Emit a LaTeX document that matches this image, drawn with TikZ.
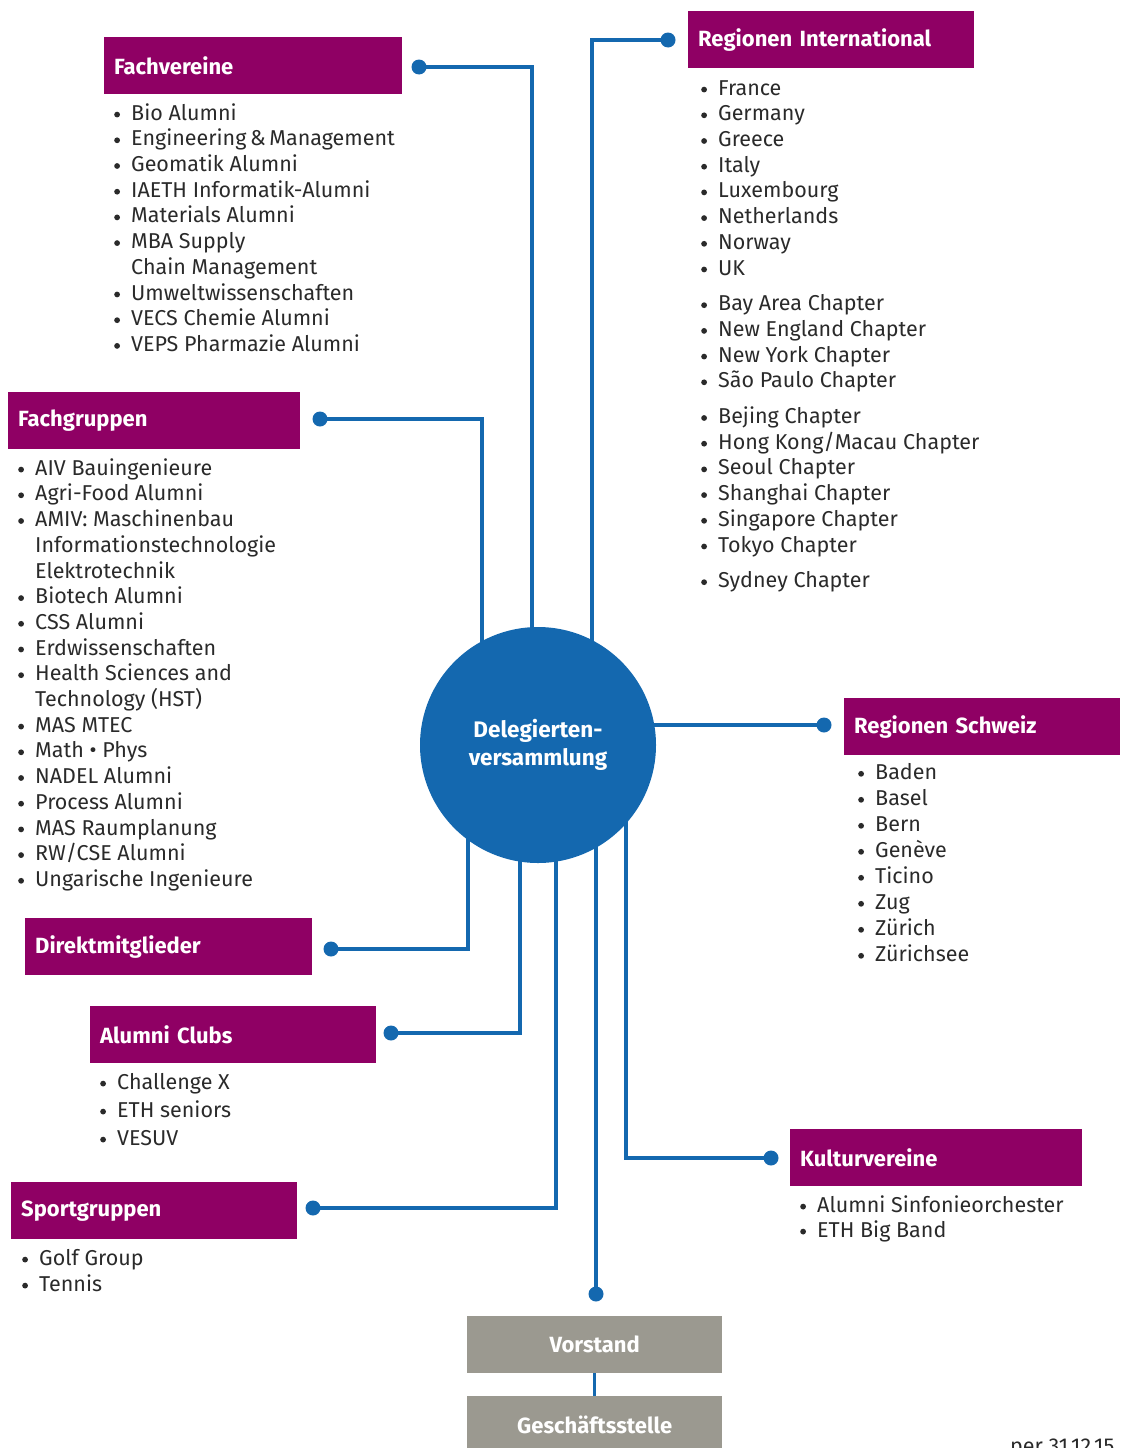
\documentclass[tikz,border=0pt]{standalone}
\usepackage{fontspec}
\setmainfont{Fira Sans}
\usetikzlibrary{backgrounds}
\definecolor{mag}{HTML}{8F0064}
\definecolor{blu}{HTML}{1468AF}
\definecolor{gry}{HTML}{9B9990}
\definecolor{txt}{HTML}{2A2A2A}
\newcommand\lbul{\makebox[17pt][l]{\tikz[baseline=0pt]\fill[txt] (3pt,5.6pt) circle (2.9pt);}}
\newcommand\lind{\hspace*{17pt}}
\begin{document}
\begin{tikzpicture}[x=1pt,y=-1pt,
 titlebox/.style={fill=mag, text=white, font=\fontsize{22}{24}\selectfont\bfseries, anchor=north west, minimum height=57pt, inner xsep=10pt, inner ysep=0pt, align=left},
 greybox/.style={fill=gry, text=white, font=\fontsize{22}{24}\selectfont\bfseries, anchor=north west, minimum height=57pt, minimum width=255pt, inner sep=0pt, align=center},
 listtext/.style={anchor=north west, inner sep=0pt, align=left, text=txt, font=\fontsize{21.5}{25.7}\selectfont},
 dot/.style={circle, fill=blu, inner sep=0pt, minimum size=15pt},
 conn/.style={draw=blu, line width=3.5pt}]
\useasboundingbox (0,0) rectangle (1120,1448);

% central circle
\node[circle, fill=blu, minimum size=236pt, inner sep=0pt, text=white, font=\fontsize{22.5}{28}\selectfont\bfseries, align=center] (dv) at (538,745) {Delegierten-\\versammlung};

% title boxes
\node[titlebox, text width=278pt] (fv) at (104,37) {Fachvereine};
\node[titlebox, text width=266pt] (ri) at (688,11) {Regionen International};
\node[titlebox, text width=272pt] (fg) at (8,392) {Fachgruppen};
\node[titlebox, text width=256pt] (rs) at (844,698) {Regionen Schweiz};
\node[titlebox, text width=267pt] (dm) at (25,918) {Direktmitglieder};
\node[titlebox, text width=266pt] (ac) at (90,1006) {Alumni Clubs};
\node[titlebox, text width=266pt] (sg) at (11,1182) {Sportgruppen};
\node[titlebox, text width=272pt] (kv) at (790,1129) {Kulturvereine};
\node[greybox] (vs) at (467,1316) {Vorstand};
\node[greybox] (gs) at (467,1396) {Geschäftsstelle};

% lists
\node[listtext] (fvl) at (114,102) {\strut\lbul Bio Alumni\\\lbul Engineering\,\&\,Management\\\lbul Geomatik Alumni\\\lbul IAETH Informatik-Alumni\\\lbul Materials Alumni\\\lbul MBA Supply\\\lind Chain Management\\\lbul Umweltwissenschaften\\\lbul VECS Chemie Alumni\\\lbul VEPS Pharmazie Alumni};
\node[listtext] (ril) at (701,77) {\strut\lbul France\\\lbul Germany\\\lbul Greece\\\lbul Italy\\\lbul Luxembourg\\\lbul Netherlands\\\lbul Norway\\\lbul UK\\[10pt]\lbul Bay Area Chapter\\\lbul New England Chapter\\\lbul New York Chapter\\\lbul São Paulo Chapter\\[10pt]\lbul Bejing Chapter\\\lbul Hong Kong/Macau Chapter\\\lbul Seoul Chapter\\\lbul Shanghai Chapter\\\lbul Singapore Chapter\\\lbul Tokyo Chapter\\[10pt]\lbul Sydney Chapter};
\node[listtext] (fgl) at (18,457) {\strut\lbul AIV Bauingenieure\\\lbul Agri-Food Alumni\\\lbul AMIV: Maschinenbau\\\lind Informationstechnologie\\\lind Elektrotechnik\\\lbul Biotech Alumni\\\lbul CSS Alumni\\\lbul Erdwissenschaften\\\lbul Health Sciences and\\\lind Technology (HST)\\\lbul MAS MTEC\\\lbul Math • Phys\\\lbul NADEL Alumni\\\lbul Process Alumni\\\lbul MAS Raumplanung\\\lbul RW/CSE Alumni\\\lbul Ungarische Ingenieure};
\node[listtext, font=\fontsize{21.5}{26}\selectfont] (rsl) at (858,761) {\strut\lbul Baden\\\lbul Basel\\\lbul Bern\\\lbul Genève\\\lbul Ticino\\\lbul Zug\\\lbul Zürich\\\lbul Zürichsee};
\node[listtext, font=\fontsize{21.5}{28}\selectfont] (acl) at (100,1069.4) {\strut\lbul Challenge X\\\lbul ETH seniors\\\lbul VESUV};
\node[listtext, font=\fontsize{21.5}{26}\selectfont] (sgl) at (22,1246.8) {\strut\lbul Golf Group\\\lbul Tennis};
\node[listtext, font=\fontsize{21.5}{25}\selectfont] (kvl) at (800,1194.5) {\strut\lbul Alumni Sinfonieorchester\\\lbul ETH Big Band};

\node[anchor=base west, inner sep=0pt, text=txt, font=\fontsize{21.5}{24}\selectfont] (per) at (1010,1453) {per 31.12.15};

% dots
\node[dot] (fvd) at (419,67) {};
\node[dot] (rid) at (668,40) {};
\node[dot] (fgd) at (320,419) {};
\node[dot] (rsd) at (824,725) {};
\node[dot] (dmd) at (331,949) {};
\node[dot] (acd) at (391,1033) {};
\node[dot] (sgd) at (313,1208) {};
\node[dot] (kvd) at (771,1158) {};
\node[dot] (vsd) at (596,1294) {};

% connectors
\begin{scope}[on background layer]
\draw[conn] (fvd.center) -| ([xshift=-6pt]dv.center);
\draw[conn] (rid.center) -| ([xshift=54pt]dv.center);
\draw[conn] (fgd.center) -| ([xshift=-56pt]dv.center);
\draw[conn] (dmd.center) -| ([xshift=-70pt]dv.center);
\draw[conn] (acd.center) -| ([xshift=-18pt]dv.center);
\draw[conn] (sgd.center) -| ([xshift=18pt]dv.center);
\draw[conn] (kvd.center) -| ([xshift=88pt]dv.center);
\draw[conn] (rsd.center) -- (rsd.center -| dv.center);
\draw[conn] (vsd.center) -- (vsd.center |- dv.center);
\draw[conn] (vs.south) -- (gs.north);
\end{scope}
\end{tikzpicture}
\end{document}
